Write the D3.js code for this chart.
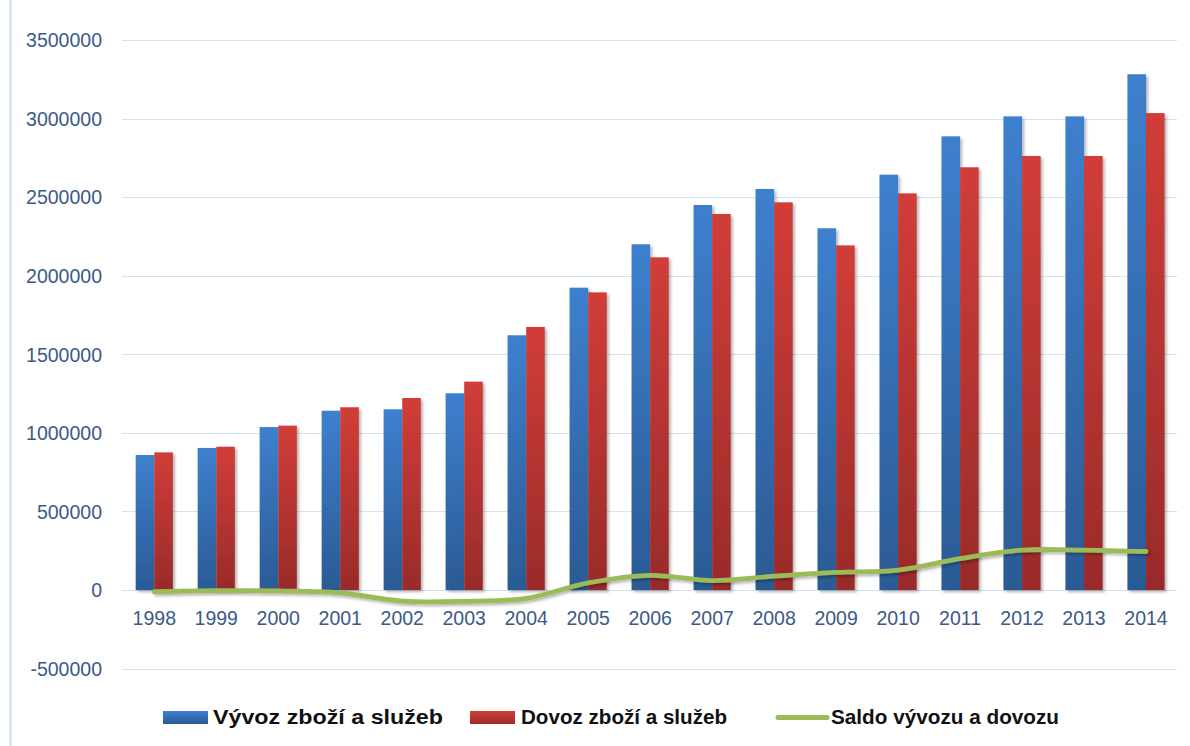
<!DOCTYPE html>
<html>
<head>
<meta charset="utf-8">
<script src="https://cdn.jsdelivr.net/npm/d3@7"></script>
<style>
  html, body { margin: 0; padding: 0; background: #ffffff; }
  svg { display: block; }
</style>
</head>
<body>
<svg id="chart" width="1190" height="746"></svg>
<script>
// Years on the category axis
const years = ["1998","1999","2000","2001","2002","2003","2004","2005","2006",
               "2007","2008","2009","2010","2011","2012","2013","2014"];
// Export of goods and services
const vyvoz = [859000, 904000, 1037000, 1141000, 1150000, 1252000, 1621000, 1924000, 2200000,
               2450000, 2552000, 2302000, 2643000, 2887000, 3014000, 3014000, 3282000];
// Import of goods and services
const dovoz = [876000, 912000, 1046000, 1163000, 1222000, 1326000, 1674000, 1894000, 2117000,
               2393000, 2467000, 2193000, 2524000, 2690000, 2762000, 2762000, 3035000];
// Trade balance
const saldo = [-11000, -4000, -6000, -18000, -70000, -72000, -53000, 45000, 93000,
               60000, 88000, 112000, 127000, 200000, 254000, 254000, 245000];
// Value-axis ticks
const yTicks = [-500000, 0, 500000, 1000000, 1500000, 2000000, 2500000, 3000000, 3500000];
const seriesNames = ["Vývoz zboží a služeb", "Dovoz zboží a služeb", "Saldo vývozu a dovozu"];

const svg = d3.select("#chart");
const defs = svg.append("defs");

function barGradient(id, top, bottom) {
  const g = defs.append("linearGradient").attr("id", id)
    .attr("x1", 0).attr("y1", 0).attr("x2", 0).attr("y2", 1);
  g.append("stop").attr("offset", "0%").attr("stop-color", top);
  g.append("stop").attr("offset", "100%").attr("stop-color", bottom);
}
barGradient("gBlue", "#3e80ce", "#2b5a94");
barGradient("gRed", "#d13d39", "#992b29");

const shadow = defs.append("filter").attr("id", "shadow")
  .attr("x", "-20%").attr("y", "-5%").attr("width", "160%").attr("height", "115%");
shadow.append("feDropShadow").attr("dx", 2).attr("dy", 2)
  .attr("stdDeviation", 1.6).attr("flood-color", "#000").attr("flood-opacity", 0.3);

const plotLeft = 123.3, plotRight = 1177;
const x0 = d3.scaleBand().domain(years).range([plotLeft, plotRight])
  .paddingInner(0.4).paddingOuter(0.2);
const x1 = d3.scaleBand().domain(["vyvoz", "dovoz"]).range([0, x0.bandwidth()]);
const y = d3.scaleLinear().domain([-500000, 3500000]).range([668.6, 40]);

const axisColor = "#3b5a88";
const gridColor = "#d3e2f4";
const tickFont = "'Liberation Sans', Arial, sans-serif";

// frame line on the left
svg.append("line").attr("x1", 10.5).attr("x2", 10.5).attr("y1", 0).attr("y2", 746)
  .attr("stroke", "#c8daf1").attr("stroke-width", 2);

// value axis labels (plain hyphen for negatives)
const yAxis = d3.axisLeft(y).tickValues(yTicks).tickSize(0).tickFormat(d => String(d));
const gy = svg.append("g").attr("transform", "translate(102,0)").call(yAxis);
gy.select(".domain").remove();
gy.selectAll("text")
  .attr("x", 0).attr("dy", "0.35em")
  .attr("fill", axisColor)
  .style("font-family", tickFont)
  .style("font-size", "19.5px");

// horizontal gridlines
svg.append("g").selectAll("line").data(yTicks).join("line")
  .attr("x1", 122).attr("x2", plotRight)
  .attr("y1", d => Math.round(y(d)) + 0.5).attr("y2", d => Math.round(y(d)) + 0.5)
  .attr("stroke", gridColor).attr("stroke-width", 1);

// bars
const groups = svg.append("g").selectAll("g").data(years).join("g")
  .attr("transform", d => `translate(${x0(d)},0)`);

groups.append("rect")
  .attr("x", x1("vyvoz")).attr("width", x1.bandwidth())
  .attr("y", (d, i) => y(vyvoz[i])).attr("height", (d, i) => y(0) - y(vyvoz[i]))
  .attr("fill", "url(#gBlue)").attr("filter", "url(#shadow)");

groups.append("rect")
  .attr("x", x1("dovoz")).attr("width", x1.bandwidth())
  .attr("y", (d, i) => y(dovoz[i])).attr("height", (d, i) => y(0) - y(dovoz[i]))
  .attr("fill", "url(#gRed)").attr("filter", "url(#shadow)");

// category labels
const xAxis = d3.axisBottom(x0).tickSize(0);
const gx = svg.append("g").attr("transform", "translate(0,611)").call(xAxis);
gx.select(".domain").remove();
gx.selectAll("text")
  .attr("y", 0).attr("dy", "0.72em")
  .attr("fill", axisColor)
  .style("font-family", tickFont)
  .style("font-size", "19.5px");

// balance line
const line = d3.line()
  .x((d, i) => x0(years[i]) + x0.bandwidth() / 2)
  .y(d => y(d))
  .curve(d3.curveCatmullRom.alpha(0.5));

svg.append("path").datum(saldo)
  .attr("d", line)
  .attr("fill", "none").attr("stroke", "#9bbb59")
  .attr("stroke-width", 4.8).attr("stroke-linecap", "round").attr("stroke-linejoin", "round")
  .attr("filter", "url(#shadow)");

// legend
const legend = svg.append("g");
const legendFont = "'Liberation Sans', Arial, sans-serif";
const items = [
  { name: seriesNames[0], kind: "rect", fill: "url(#gBlue)", sx: 163, tx: 213, tw: 230 },
  { name: seriesNames[1], kind: "rect", fill: "url(#gRed)", sx: 470, tx: 521, tw: 206 },
  { name: seriesNames[2], kind: "line", stroke: "#9bbb59", sx: 778, tx: 831, tw: 228 }
];
items.forEach(it => {
  if (it.kind === "rect") {
    legend.append("rect").attr("x", it.sx).attr("y", 711).attr("width", 45).attr("height", 13)
      .attr("fill", it.fill);
  } else {
    legend.append("line").attr("x1", it.sx).attr("x2", it.sx + 49).attr("y1", 717.5).attr("y2", 717.5)
      .attr("stroke", it.stroke).attr("stroke-width", 5).attr("stroke-linecap", "round");
  }
  legend.append("text").attr("x", it.tx).attr("y", 724)
    .attr("textLength", it.tw).attr("lengthAdjust", "spacingAndGlyphs")
    .attr("fill", "#111")
    .style("font-family", legendFont).style("font-weight", "bold").style("font-size", "20px")
    .text(it.name);
});
</script>
</body>
</html>
